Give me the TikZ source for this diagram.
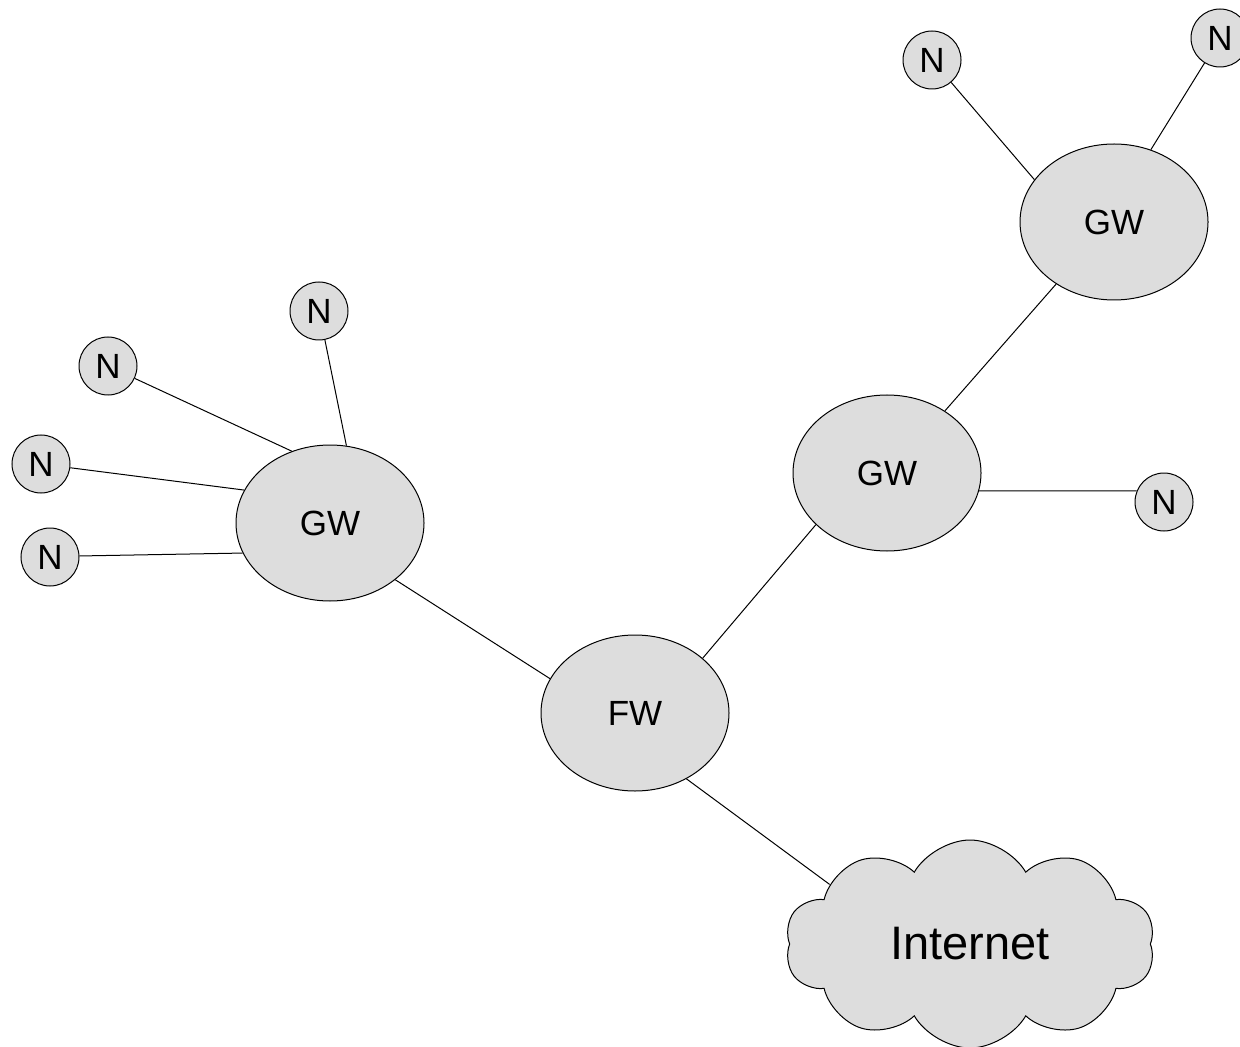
\documentclass[tikz,border=0pt]{standalone}
\usepackage{fontspec}
\setmainfont{Liberation Sans}
\usetikzlibrary{shapes.geometric,shapes.symbols}
\definecolor{boxgray}{HTML}{DDDDDD}

\begin{document}
\begin{tikzpicture}[x=0.5pt,y=-0.5pt,line width=0.5pt]
  \tikzstyle{every node}=[draw,fill=boxgray,text=black]
  \tikzstyle{gw}=[ellipse,minimum width=94pt,minimum height=78pt,inner sep=0pt,font=\fontsize{17.5}{20}\selectfont]
  \tikzstyle{host}=[circle,minimum size=29pt,inner sep=0pt,font=\fontsize{17.5}{20}\selectfont]
  \tikzstyle{net}=[cloud,cloud puffs=10,cloud puff arc=120,aspect=1.8,minimum width=185pt,minimum height=104pt,inner sep=0pt,font=\fontsize{23.5}{26}\selectfont]

  \useasboundingbox (0,0) rectangle (1240,1047);

  \node[gw]   (fw)   at (635,713)  {FW};
  \node[gw]   (gwl)  at (330,523)  {GW};
  \node[gw]   (gwm)  at (887,473)  {GW};
  \node[gw]   (gwt)  at (1114,222) {GW};
  \node[net]  (inet) at (970,944)  {Internet};

  \node[host] (n1) at (319,311)  {N};
  \node[host] (n2) at (108,366)  {N};
  \node[host] (n3) at (41,464)   {N};
  \node[host] (n4) at (50,557)   {N};
  \node[host] (n5) at (1164,502) {N};
  \node[host] (n6) at (932,60)   {N};
  \node[host] (n7) at (1220,38)  {N};

  \draw (n1) -- (gwl.78);
  \draw (n2) -- (gwl.118);
  \draw (n3) -- (gwl.159);
  \draw (n4.2) -- (gwl.199);
  \draw (gwl.-41) -- (fw.158);
  \draw (fw.39) -- (gwm.216);
  \draw (gwm.47) -- (gwt.227);
  \draw (gwm.-11) -- (n5.158);
  \draw (gwt.152) -- (n6);
  \draw (gwt.63) -- (n7);
  \draw (fw.-52) -- (inet.157);
\end{tikzpicture}
\end{document}
